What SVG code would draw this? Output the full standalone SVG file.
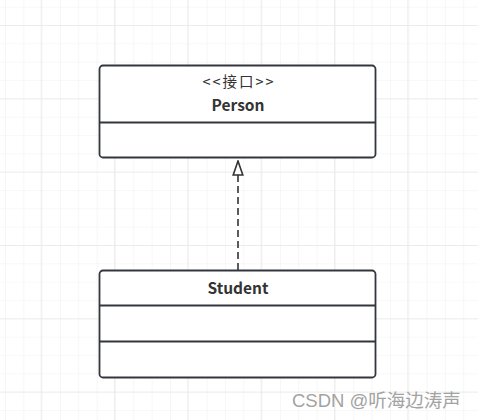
<svg xmlns="http://www.w3.org/2000/svg" width="478" height="420" viewBox="0 0 478 420">
  <defs>
    <pattern id="minor" x="5" y="6.7" width="18.33" height="18.33" patternUnits="userSpaceOnUse">
      <path d="M0 0V18.33M0 0H18.33" fill="none" stroke="#f1f1f1" stroke-width="1.2"/>
    </pattern>
    <pattern id="major" x="40.7" y="25" width="73.33" height="73.33" patternUnits="userSpaceOnUse">
      <path d="M0 0V73.33M0 0H73.33" fill="none" stroke="#e9e9e9" stroke-width="1.6"/>
    </pattern>
    <marker id="realize" viewBox="0 0 16 12" refX="15" refY="6" markerWidth="16" markerHeight="12" markerUnits="userSpaceOnUse" orient="auto">
      <path d="M15 6L1 1.2V10.8Z" fill="#fff" stroke="#333" stroke-width="1.6" stroke-linejoin="miter"/>
    </marker>
    <style>
      .box { fill: #fff; stroke: #33373d; stroke-width: 1.8; }
      .div { stroke: #33373d; stroke-width: 1.8; fill: none; }
      .t { font-family: "Noto Sans CJK SC", "Noto Sans", sans-serif; fill: #333; text-anchor: middle; }
      .name { font-size: 15.5px; font-weight: bold; }
      .stereo { font-size: 14.5px; letter-spacing: 2px; }
      .wm { font-family: "Liberation Sans", "Noto Sans CJK SC", sans-serif; font-size: 18.5px; fill: #a3a3a3; }
    </style>
  </defs>
  <rect width="478" height="420" fill="#fff"/>
  <rect width="478" height="420" fill="url(#minor)"/>
  <rect width="478" height="420" fill="url(#major)"/>

  <g id="connectors">
    <path d="M238 270V161" fill="none" stroke="#333" stroke-width="1.6" stroke-dasharray="7 4" marker-end="url(#realize)"/>
  </g>

  <g id="person">
    <rect class="box" x="99.5" y="65.5" width="276" height="92" rx="3.5"/>
    <path class="div" d="M99.5 122.5H375.5"/>
    <text class="t stereo" x="239" y="87">&lt;&lt;接口&gt;&gt;</text>
    <text class="t name" x="238" y="110.5">Person</text>
  </g>

  <g id="student">
    <rect class="box" x="99.5" y="270.5" width="276" height="107" rx="3.5"/>
    <path class="div" d="M99.5 305.5H375.5M99.5 341.5H375.5"/>
    <text class="t name" x="238" y="294">Student</text>
  </g>

  <text class="wm" x="292" y="407">CSDN @听海边涛声</text>
</svg>
